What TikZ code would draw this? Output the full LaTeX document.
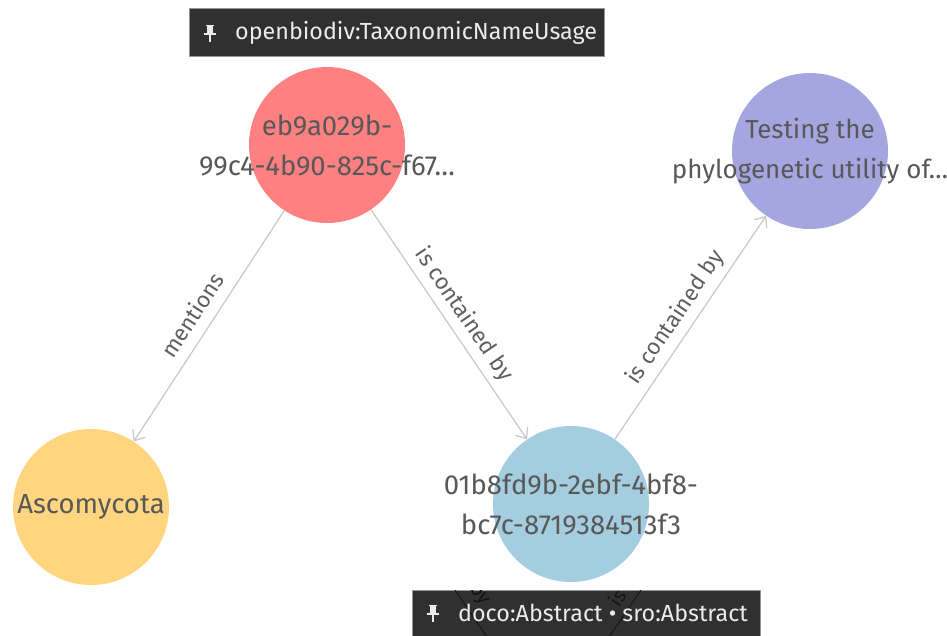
\documentclass[tikz,border=0pt]{standalone}
\usepackage{fontspec}
\setmainfont{Fira Sans}
\usetikzlibrary{arrows.meta}
\definecolor{cred}{RGB}{255,128,128}
\definecolor{cpurple}{RGB}{165,165,224}
\definecolor{corange}{RGB}{255,213,128}
\definecolor{cblue}{RGB}{165,205,224}
\definecolor{cedge}{RGB}{200,200,200}
\definecolor{ctext}{RGB}{88,88,88}
\definecolor{cetext}{RGB}{95,95,95}
\definecolor{cbox}{RGB}{48,48,48}
\definecolor{cboxline}{RGB}{150,150,150}
\definecolor{cboxtext}{RGB}{235,235,235}
\begin{document}
\begin{tikzpicture}[x=1pt,y=-1pt,
  res/.style={circle, inner sep=0pt, minimum size=156pt, draw=none},
  restext/.style={text=ctext, font=\fontsize{27.5}{40}\selectfont, align=center, inner sep=0pt},
  rel/.style={draw=cedge, line width=1.2pt, -{Straight Barb[length=9pt,width=15pt]}},
  reltext/.style={text=cetext, font=\fontsize{22.5}{22.5}\selectfont, sloped, above=11pt, inner sep=0pt, text depth=0pt},
  tagbox/.style={fill=cbox, draw=cboxline, line width=0.8pt, inner sep=0pt, anchor=north west},
  tagtext/.style={text=cboxtext, font=\fontsize{23.3}{23.3}\selectfont, anchor=west, inner sep=0pt},
  pics/pushpin/.style={code={
    \fill[cboxtext] (-4,-8.5) rectangle (4,-7);
    \fill[cboxtext] (-3,-7) rectangle (3,0);
    \fill[cboxtext] (-6,0) rectangle (6,2);
    \draw[cboxtext, line width=1.4pt] (0,2) -- (0,8.5);
  }},
]
\fill[white] (0,0) rectangle (947,635);
\useasboundingbox (0,0) rectangle (947,635);

% resources
\node[res, fill=cred] (tnu) at (327,145) {};
\node[res, fill=cpurple] (art) at (810,151) {};
\node[res, fill=corange] (asc) at (91,507) {};
\node[res, fill=cblue] (abs) at (571,504) {};

\node[restext] (tnut) at (tnu.center) {eb9a029b-\\99c4-4b90-825c-f67…};
\node[restext, font=\fontsize{26}{40}\selectfont] (artt) at (art.center) {Testing the\\phylogenetic utility of…};
\node[restext] (asct) at (asc.center) {Ascomycota};
\node[restext] (abst) at (abs.center) {01b8fd9b-2ebf-4bf8-\\bc7c-8719384513f3};

% relations
\draw[rel] (tnu) -- (asc) node[reltext, midway] (l1) {mentions};
\draw[rel] (tnu) -- (abs) node[reltext, midway] (l2) {is contained by};
\draw[rel] (abs) -- (art) node[reltext, midway] (l3) {is contained by};

% type tags
\node[tagbox, minimum width=415pt, minimum height=48pt] (tag1) at (189,8) {};
\pic at (210,33) {pushpin};
\node[tagtext] (tag1t) at (235,33) {openbiodiv:TaxonomicNameUsage};

\node[tagbox, minimum width=348pt, minimum height=60pt] (tag2) at (412,590) {};
\begin{scope}
\clip (tag2.north west) rectangle (tag2.south east);
\coordinate (f1a) at (455,590); \coordinate (f1b) at (487,637);
\coordinate (f2a) at (641,590); \coordinate (f2b) at (609,637);
\draw[black!92, line width=0.9pt] (f1a) -- (f1b);
\draw[black!92, line width=0.9pt] (f2a) -- (f2b);
\node[rotate=-56, text=black!92, font=\fontsize{20}{20}\selectfont, inner sep=0pt] (fr1) at (480,594) {by};
\node[rotate=56, text=black!92, font=\fontsize{20}{20}\selectfont, inner sep=0pt] (fr2) at (617,598) {is};
\end{scope}
\pic at (433,613) {pushpin};
\node[tagtext] (tag2t) at (458,613) {doco:Abstract • sro:Abstract};
\end{tikzpicture}
\end{document}
